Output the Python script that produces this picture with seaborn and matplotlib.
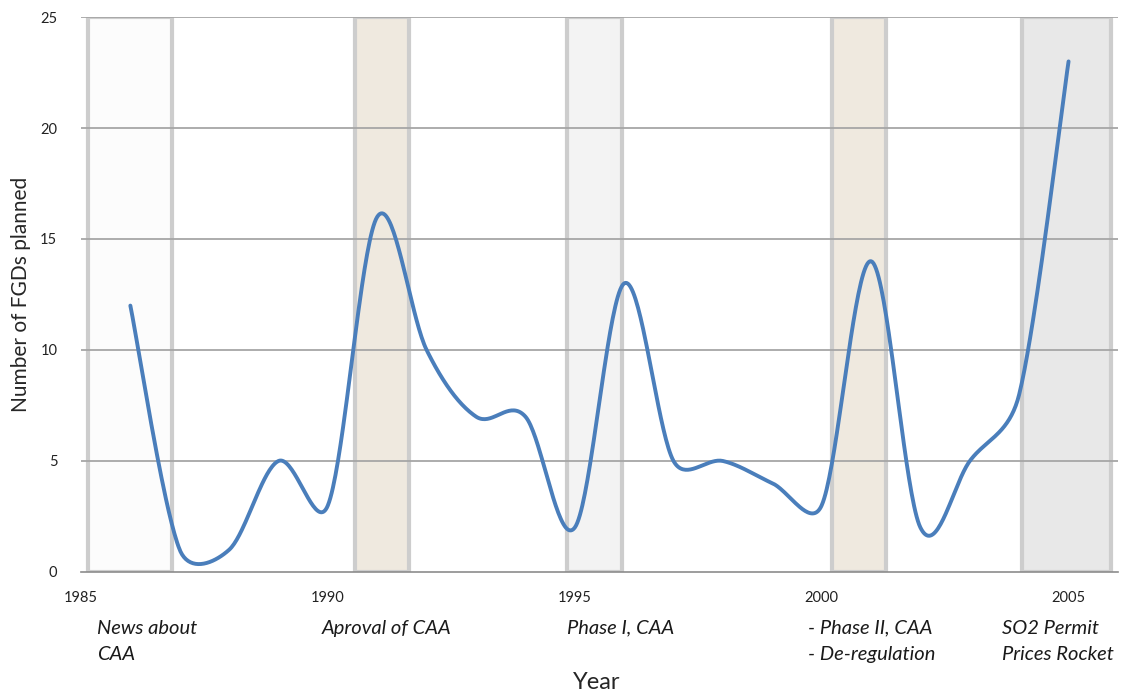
"""
FGD plans per year with regulatory event windows (Excel-style smoothed line)
"""

import numpy as np
import pandas as pd
import matplotlib
matplotlib.use("Agg")
import matplotlib.pyplot as plt
import matplotlib.transforms as mtransforms
from matplotlib.patches import Rectangle
import seaborn as sns

# data
years = [1986, 1987, 1988, 1989, 1990, 1991, 1992, 1993, 1994, 1995,
         1996, 1997, 1998, 1999, 2000, 2001, 2002, 2003, 2004, 2005]
fgds_planned = [12, 1, 1, 5, 3, 16, 10, 7, 7, 2,
                13, 5, 5, 4, 3, 14, 2, 5, 8, 23]

# event windows (start year, end year) and their captions
event_starts = [1985.15, 1990.55, 1994.85, 2000.2, 2004.05]
event_ends = [1986.85, 1991.65, 1995.95, 2001.3, 2005.85]
event_labels = ["News about\nCAA", "Aproval of CAA", "Phase I, CAA",
                "- Phase II, CAA\n- De-regulation", "SO2 Permit\nPrices Rocket"]
event_label_x = [1985.32, 1989.87, 1994.85, 1999.72, 2003.65]
event_fills = ["#fcfcfc", "#efe9df", "#f3f3f3", "#efe9df", "#e8e8e8"]


def excel_smooth(ax, xs, ys, n=40):
    """Bezier smoothing like Excel's 'smoothed line', done in screen space."""
    pts = ax.transData.transform(np.column_stack([xs, ys]))
    out = []
    m = len(pts)
    for i in range(m - 1):
        p0 = pts[i - 1] if i > 0 else pts[i]
        p1, p2 = pts[i], pts[i + 1]
        p3 = pts[i + 2] if i + 2 < m else pts[i + 1]
        d12 = np.hypot(*(p2 - p1))
        d02 = np.hypot(*(p2 - p0))
        d13 = np.hypot(*(p3 - p1))
        f1 = 1 / 6
        if d02 / 6 > d12 / 2 and d02 > 0:
            f1 = d12 / (2 * d02)
        f2 = 1 / 6
        if d13 / 6 > d12 / 2 and d13 > 0:
            f2 = d12 / (2 * d13)
        c1 = p1 + (p2 - p0) * f1
        c2 = p2 - (p3 - p1) * f2
        t = np.linspace(0, 1, n)[:, None]
        seg = ((1 - t) ** 3 * p1 + 3 * (1 - t) ** 2 * t * c1
               + 3 * (1 - t) * t ** 2 * c2 + t ** 3 * p2)
        out.append(seg if i == 0 else seg[1:])
    curve = np.vstack(out)
    return ax.transData.inverted().transform(curve)


sns.set_style("white")
plt.rcParams["font.family"] = ["Lato", "DejaVu Sans"]

fig = plt.figure(figsize=(11.23, 6.94), dpi=100)
ax = fig.add_axes([0.0721, 0.1758, 0.9234, 0.7997])
ax.set_xlim(1985, 2006)
ax.set_ylim(0, 25)

# event boxes
for x0, x1, fc in zip(event_starts, event_ends, event_fills):
    ax.add_patch(Rectangle((x0, 0), x1 - x0, 25, facecolor=fc,
                           edgecolor="#cdcdcd", linewidth=3, zorder=0.3))

# gridlines
for y in [5, 10, 15, 20, 25]:
    ax.axhline(y, color="#a6a6a6", linewidth=1.3, zorder=0.6)

curve = excel_smooth(ax, years, fgds_planned)
df = pd.DataFrame({"year": curve[:, 0], "fgds": curve[:, 1]})
sns.lineplot(data=df, x="year", y="fgds", sort=False, ax=ax,
             color="#4a7ebb", linewidth=2.8, zorder=3)

for side in ["top", "right", "left"]:
    ax.spines[side].set_visible(False)
ax.spines["bottom"].set_color("#8c8c8c")
ax.spines["bottom"].set_linewidth(1.2)

ax.set_xticks([1985, 1990, 1995, 2000, 2005])
ax.set_yticks([0, 5, 10, 15, 20, 25])
ax.tick_params(axis="x", length=0, pad=14, labelsize=10.5, colors="#222222")
ax.tick_params(axis="y", length=0, pad=17, labelsize=10.5, colors="#222222")
ax.set_xlabel("")
ax.set_ylabel("Number of FGDs planned", fontsize=15, labelpad=7)

trans = mtransforms.blended_transform_factory(ax.transData, ax.transAxes)
for lx, text in zip(event_label_x, event_labels):
    ax.text(lx, -0.086, text, transform=trans, ha="left", va="top",
            fontsize=14.5, style="italic", linespacing=1.65, color="#1a1a1a")

fig.text(0.531, 0.016, "Year", ha="center", va="center", fontsize=17)

plt.savefig("out.png", dpi=100)
plt.close()
